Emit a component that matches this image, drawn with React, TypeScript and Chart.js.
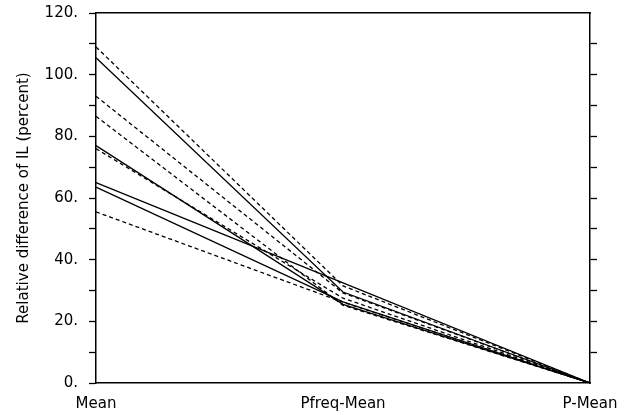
import React, { useEffect, useRef } from "react";
import { Chart, registerables } from "chart.js";

Chart.register(...registerables);

const categories = ["Mean", "Pfreq-Mean", "P-Mean"];
const yTicks = [0, 20, 40, 60, 80, 100, 120];

const solidSeries = [
  [105.5, 29.5, 0],
  [77, 25.5, 0],
  [65, 32.5, 0],
  [63.5, 26.3, 0],
];
const dashedSeries = [
  [109, 31.5, 0],
  [93, 29.2, 0],
  [86.5, 25.2, 0],
  [76, 27.5, 0],
  [55.5, 26.2, 0],
];

const FONT = "'DejaVu Sans', sans-serif";

export default function App() {
  const ref = useRef<HTMLCanvasElement | null>(null);
  useEffect(() => {
    document.body.style.margin = "0";
    if (!ref.current) return;
    const datasets: any[] = [];
    solidSeries.forEach((d, i) =>
      datasets.push({
        label: "solid" + i,
        data: d,
        borderColor: "#000",
        borderWidth: 1.3,
        pointRadius: 0,
        tension: 0,
        fill: false,
      })
    );
    dashedSeries.forEach((d, i) =>
      datasets.push({
        label: "dashed" + i,
        data: d,
        borderColor: "#000",
        borderWidth: 1.3,
        borderDash: [4, 3],
        pointRadius: 0,
        tension: 0,
        fill: false,
      })
    );
    const chart = new Chart(ref.current, {
      type: "line",
      data: { labels: categories, datasets },
      options: {
        animation: false,
        responsive: false,
        layout: { padding: 0 },
        plugins: { legend: { display: false }, tooltip: { enabled: false } },
        scales: {
          x: {
            type: "category",
            position: "bottom",
            offset: false,
            grid: { display: false, drawTicks: false, tickLength: 0 },
            border: { display: true, color: "#000", width: 1.5 },
            ticks: {
              color: "#000",
              font: { family: FONT, size: 15 },
              padding: 12,
              maxRotation: 0,
              autoSkip: false,
            },
            afterFit: (s: any) => {
              s.height = 32;
              s.paddingLeft = 0;
              s.paddingRight = 0;
            },
          },
          x2: {
            type: "category",
            position: "top",
            offset: false,
            grid: { display: false, drawTicks: false },
            border: { display: true, color: "#000", width: 1.5 },
            ticks: { display: false },
            afterFit: (s: any) => {
              s.height = 13;
              s.paddingLeft = 0;
              s.paddingRight = 0;
            },
          },
          y: {
            position: "left",
            min: 0,
            max: 120,
            afterBuildTicks: (s: any) => {
              const t: any[] = [];
              for (let v = 0; v <= 120; v += 10) t.push({ value: v });
              s.ticks = t;
            },
            grid: {
              drawOnChartArea: false,
              drawTicks: true,
              tickLength: 7,
              tickColor: "#000",
              tickWidth: 1.3,
            },
            border: { display: true, color: "#000", width: 1.5 },
            ticks: {
              autoSkip: false,
              color: "#000",
              font: { family: FONT, size: 15 },
              padding: 11,
              callback: (v: any) => (yTicks.includes(Number(v)) ? v + "." : ""),
            },
            title: {
              display: true,
              text: "Relative difference of IL (percent)",
              color: "#000",
              font: { family: FONT, size: 15 },
              padding: { top: 15, bottom: 0 },
            },
            afterFit: (s: any) => {
              s.width = 96;
              s.paddingTop = 0;
              s.paddingBottom = 0;
            },
          },
          y2: {
            position: "right",
            min: 0,
            max: 120,
            afterBuildTicks: (s: any) => {
              const t: any[] = [];
              for (let v = 0; v <= 120; v += 10) t.push({ value: v });
              s.ticks = t;
            },
            grid: {
              drawOnChartArea: false,
              drawTicks: true,
              tickLength: 7,
              tickWidth: 1.3,
              tickColor: (c: any) =>
                c.tick && (c.tick.value === 0 || c.tick.value === 120)
                  ? "rgba(0,0,0,0)"
                  : "#000",
            },
            border: { display: true, color: "#000", width: 1.5 },
            ticks: { autoSkip: false, callback: () => "" },
            afterFit: (s: any) => {
              s.width = 42;
              s.paddingTop = 0;
              s.paddingBottom = 0;
            },
          },
        },
      } as any,
    });
    return () => chart.destroy();
  }, []);
  return (
    <div style={{ width: 632, height: 415, background: "#fff" }}>
      <canvas ref={ref} width={632} height={415} />
    </div>
  );
}
